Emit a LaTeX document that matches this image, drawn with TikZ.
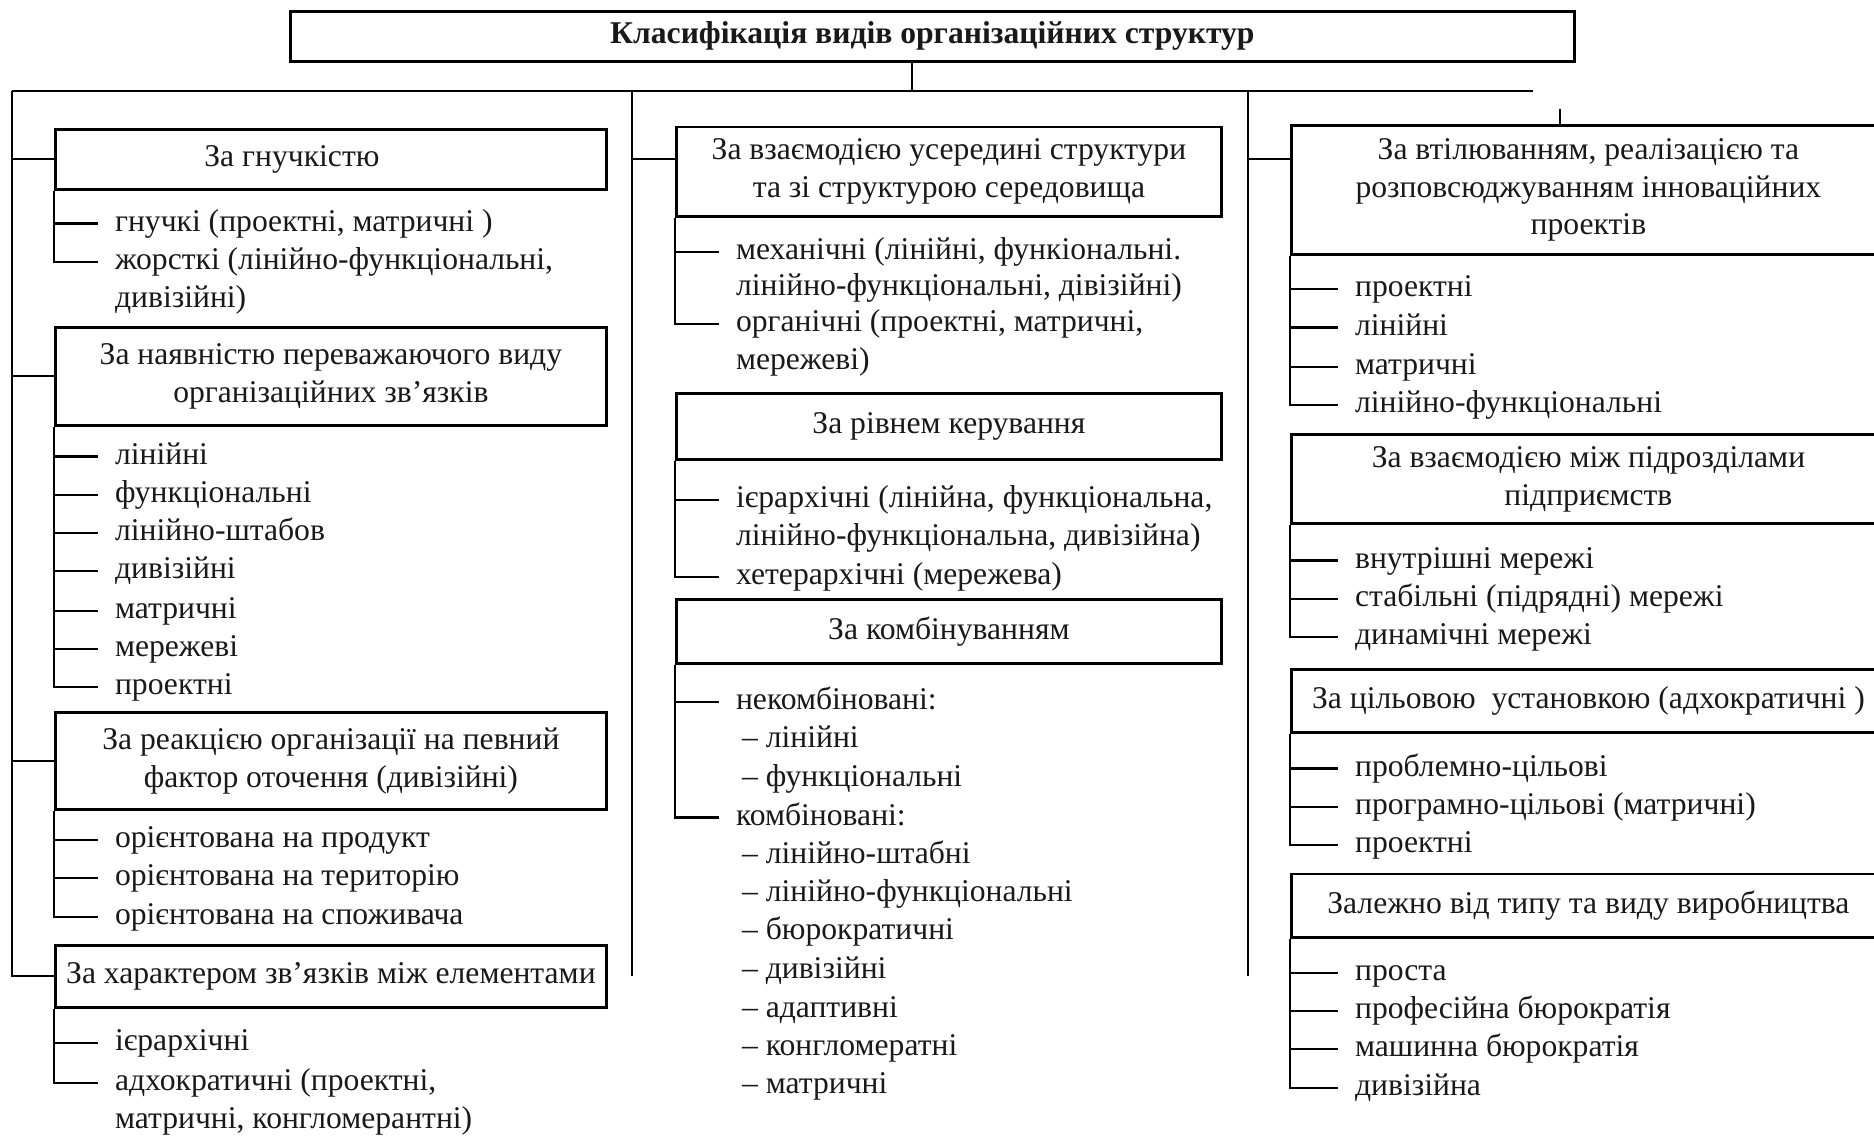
\documentclass[tikz,border=0pt]{standalone}
\usepackage{fontspec}
\setmainfont{Liberation Serif}
\usepackage{tikz}

\begin{document}
\begin{tikzpicture}[x=1cm,y=-1cm,line width=0.6pt,
			font=\fontsize{9}{10.8}\selectfont,text=black!90]
				\tikzstyle{box}=
				[draw,line width=0.8pt,anchor=north west,align=center,inner sep=1pt]
				\tikzstyle{item}=
				[anchor=west,inner ysep=0pt,inner xsep=0.16cm,text height=0.7em,text depth=0.25em]
				\tikzstyle{tick}=
				[to path={|- (\tikztotarget) \tikztonodes}]

				\useasboundingbox (0,0) rectangle (18.74,11.37);

				% header and bus
				\node[box,minimum width=12.84cm,minimum height=0.5cm,font=\fontsize{9}{10.8}\selectfont\bfseries] (T) at (2.89,0.10) {Класифікація видів організаційних структур};

				\coordinate (P) at (0.12,0.91);
				\coordinate (Q) at (6.32,0.91);
				\coordinate (R) at (12.48,0.91);
				\coordinate (S) at (15.33,0.91);
				\coordinate (U) at (9.12,0.91);
				\coordinate (V) at (15.60,1.09);

				% boxes
				\node[box,minimum width=5.51cm,minimum height=0.60cm] (A) at (0.54,1.28) {За гнучкістю\hspace*{0.78cm}};
				\node[box,minimum width=5.51cm,minimum height=0.98cm] (B) at (0.54,3.26) {За наявністю переважаючого виду\\організаційних зв’язків};
				\node[box,minimum width=5.51cm,minimum height=0.97cm] (C) at (0.54,7.11) {За реакцією організації на певний\\фактор оточення (дивізійні)};
				\node[box,minimum width=5.51cm,minimum height=0.62cm] (D) at (0.54,9.44) {За характером зв’язків між елементами};

				\node[box,minimum width=5.45cm,minimum height=0.895cm] (E) at (6.75,1.255) {За взаємодією усередині структури\\та зі структурою середовища};
				\node[box,minimum width=5.45cm,minimum height=0.66cm] (F) at (6.75,3.92) {За рівнем керування};
				\node[box,minimum width=5.45cm,minimum height=0.64cm] (G) at (6.75,5.98) {За комбінуванням};

				\node[box,minimum width=5.94cm,minimum height=1.29cm] (H) at (12.90,1.24) {За втілюванням, реалізацією та\\розповсюджуванням інноваційних\\проектів};
				\node[box,minimum width=5.94cm,minimum height=0.89cm] (I) at (12.90,4.33) {За взаємодією між підрозділами\\підприємств};
				\node[box,minimum width=5.94cm,minimum height=0.63cm] (J) at (12.90,6.68) {За цільовою\ \ установкою (адхократичні\ )};
				\node[box,minimum width=5.94cm,minimum height=0.635cm] (K) at (12.90,8.725) {Залежно від типу та виду виробництва};

				% first column
				\node[item] (A1) at (0.98,2.235) {гнучкі (проектні, матричні )};
				\node[item] (A2) at (0.98,2.62) {жорсткі (лінійно-функціональні,};
				\node[item] (A2a) at (0.98,3.00) {дивізійні)};

				\node[item] (B1) at (0.98,4.565) {лінійні};
				\node[item] (B2) at (0.98,4.95) {функціональні};
				\node[item] (B3) at (0.98,5.33) {лінійно-штабов};
				\node[item] (B4) at (0.98,5.71) {дивізійні};
				\node[item] (B5) at (0.98,6.11) {матричні};
				\node[item] (B6) at (0.98,6.49) {мережеві};
				\node[item] (B7) at (0.98,6.87) {проектні};

				\node[item] (C1) at (0.98,8.40) {орієнтована на продукт};
				\node[item] (C2) at (0.98,8.78) {орієнтована на територію};
				\node[item] (C3) at (0.98,9.17) {орієнтована на споживача};

				\node[item] (D1) at (0.98,10.43) {ієрархічні};
				\node[item] (D2) at (0.98,10.83) {адхократичні (проектні,};
				\node[item] (D2a) at (0.98,11.21) {матричні, конгломерантні)};

				% second column
				\node[item] (E1) at (7.19,2.52) {механічні (лінійні, функіональні.};
				\node[item] (E1a) at (7.19,2.88) {лінійно-функціональні, дівізійні)};
				\node[item] (E2) at (7.19,3.24) {органічні (проектні, матричні,};
				\node[item] (E2a) at (7.19,3.62) {мережеві)};

				\node[item] (F1) at (7.19,5.00) {ієрархічні (лінійна, функціональна,};
				\node[item] (F1a) at (7.19,5.38) {лінійно-функціональна, дивізійна)};
				\node[item] (F2) at (7.19,5.77) {хетерархічні (мережева)};

				\node[item] (G1) at (7.19,7.016) {некомбіновані:};
				\node[item] (G1a) at (7.25,7.40) {– лінійні};
				\node[item] (G1b) at (7.25,7.79) {– функціональні};
				\node[item] (G2) at (7.19,8.175) {комбіновані:};
				\node[item] (G2a) at (7.25,8.56) {– лінійно-штабні};
				\node[item] (G2b) at (7.25,8.94) {– лінійно-функціональні};
				\node[item] (G2c) at (7.25,9.32) {– бюрократичні};
				\node[item] (G2d) at (7.25,9.705) {– дивізійні};
				\node[item] (G2e) at (7.25,10.10) {– адаптивні};
				\node[item] (G2f) at (7.25,10.48) {– конгломератні};
				\node[item] (G2g) at (7.25,10.86) {– матричні};

				% third column
				\node[item] (H1) at (13.38,2.89) {проектні};
				\node[item] (H2) at (13.38,3.275) {лінійні};
				\node[item] (H3) at (13.38,3.67) {матричні};
				\node[item] (H4) at (13.38,4.05) {лінійно-функціональні};

				\node[item] (I1) at (13.38,5.605) {внутрішні мережі};
				\node[item] (I2) at (13.38,5.99) {стабільні (підрядні) мережі};
				\node[item] (I3) at (13.38,6.37) {динамічні мережі};

				\node[item] (J1) at (13.38,7.685) {проблемно-цільові};
				\node[item] (J2) at (13.38,8.07) {програмно-цільові (матричні)};
				\node[item] (J3) at (13.38,8.45) {проектні};

				\node[item] (K1) at (13.38,9.73) {проста};
				\node[item] (K2) at (13.38,10.11) {професійна бюрократія};
				\node[item] (K3) at (13.38,10.49) {машинна бюрократія};
				\node[item] (K4) at (13.38,10.88) {дивізійна};

				% lines
				\draw (P) -- (S);
				\draw (U) -- (U |- T.south);
				\draw (V) -- (V |- H.north);
				\draw (P) |- (D);
				\draw (Q) -- (Q |- D.west);
				\draw (R) -- (R |- D.west);

				\path 	(P |- A.west) edge (A)
						(P |- B.west) edge (B)
						(P |- C.west) edge (C)
						(Q |- A.west) edge (E.west |- A.west)
						(R |- A.west) edge (H.west |- A.west);

				\path 	(A.south west) edge[tick] (A1) edge[tick] (A2)
						(B.south west) edge[tick] (B1) edge[tick] (B2) edge[tick] (B3)
							edge[tick] (B4) edge[tick] (B5) edge[tick] (B6) edge[tick] (B7)
						(C.south west) edge[tick] (C1) edge[tick] (C2) edge[tick] (C3)
						(D.south west) edge[tick] (D1) edge[tick] (D2)
						(E.south west) edge[tick] (E1) edge[tick] (E2)
						(F.south west) edge[tick] (F1) edge[tick] (F2)
						(G.south west) edge[tick] (G1) edge[tick] (G2)
						(H.south west) edge[tick] (H1) edge[tick] (H2) edge[tick] (H3) edge[tick] (H4)
						(I.south west) edge[tick] (I1) edge[tick] (I2) edge[tick] (I3)
						(J.south west) edge[tick] (J1) edge[tick] (J2) edge[tick] (J3)
						(K.south west) edge[tick] (K1) edge[tick] (K2) edge[tick] (K3) edge[tick] (K4);
			\end{tikzpicture}
\end{document}
